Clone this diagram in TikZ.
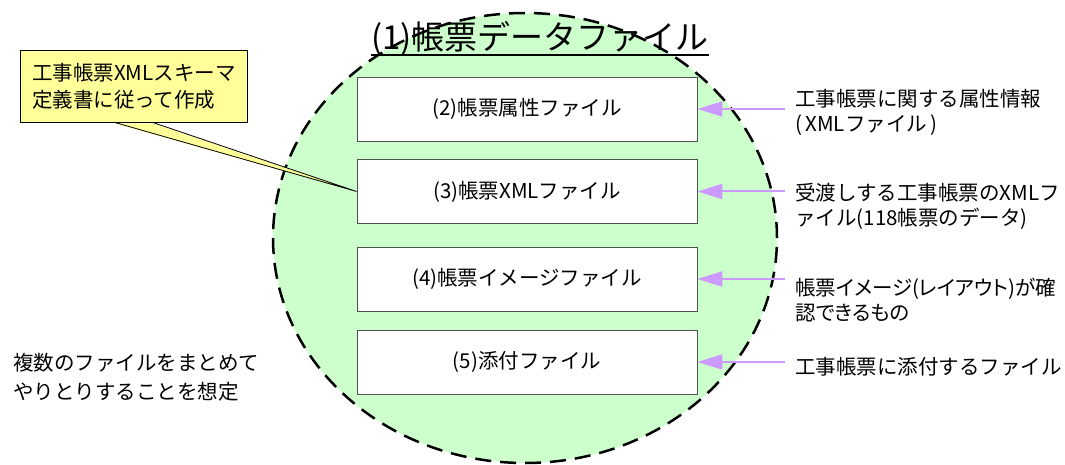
\documentclass[tikz,border=0pt]{standalone}
\usepackage{fontspec}
\setmainfont{Noto Sans CJK JP}
\newfontfamily\narrowjp[RawFeature=+palt]{Noto Sans CJK JP}
\usetikzlibrary{arrows.meta,positioning}
\definecolor{zone}{RGB}{204,255,204}
\definecolor{memo}{RGB}{255,255,153}
\definecolor{lav}{RGB}{204,153,255}
\definecolor{edge}{RGB}{80,80,80}
\tikzset{
	filebox/.style={draw=edge,line width=0.8pt,fill=white,minimum width=340pt,minimum height=64pt,inner sep=0pt,font=\fontsize{20.5}{25}\selectfont},
	note/.style={align=left,anchor=west,inner sep=0pt,font=\fontsize{20.5}{25}\selectfont},
	lavarrow/.style={draw=lav,line width=2pt,-{Triangle[length=25pt,width=15pt,fill=lav]}}
}
\begin{document}
\begin{tikzpicture}[x=1pt,y=-1pt]
	\useasboundingbox (0,0) rectangle (1065,465);
	\draw[fill=zone,line width=2.5pt,dash pattern=on 16pt off 9pt] (525,238) ellipse [x radius=252pt,y radius=225pt];
	\node[inner sep=0pt,anchor=base,font=\fontsize{33}{36}\selectfont] (title) at (540,50) {(1)帳票データファイル};
	\draw[line width=1.6pt] ([yshift=-5pt]title.base west) -- ([yshift=-5pt]title.base east);
	\node[filebox] (box1) at (527,109) {(2)帳票属性ファイル};
	\node[filebox] (box2) at (527,191.5) {(3)帳票XMLファイル};
	\node[filebox] (box3) at (527,279) {(4)帳票イメージファイル};
	\node[filebox] (box4) at (527,362) {(5)添付ファイル};
	\node[note] (lab1) at (795,112) {工事帳票に関する属性情報\\(\,XMLファイル\,)};
	\node[note] (lab2) at (795,206) {受渡しする工事帳票のXMLフ\\ァイル(118帳票のデータ)};
	\node[note,font=\fontsize{20.5}{25}\narrowjp] (lab3) at (795,300) {帳票イメージ(レイアウト)が確\\認できるもの};
	\node[note] (lab4) at (795,367) {工事帳票に添付するファイル};
	\foreach \i in {1,...,4} {
		\coordinate (from\i) at ([xshift=-10pt]lab\i.west);
		\draw[lavarrow] (from\i |- box\i.east) -- (box\i.east);
	}
	\node[draw,line width=0.8pt,fill=memo,minimum width=227pt,minimum height=72pt,text width=203pt,align=left,inner sep=0pt,font=\fontsize{20.5}{27}\selectfont] (memo) at (133.5,86) {工事帳票XMLスキーマ\\定義書に従って作成};
	\coordinate (baseA) at ([xshift=-19pt]memo.south);
	\coordinate (baseB) at ([xshift=19pt]memo.south);
	\fill[memo] ([yshift=-1pt]baseA) -- (box2.west) -- ([yshift=-1pt]baseB) -- cycle;
	\draw[line width=0.8pt] (baseA) -- (box2.west) -- (baseB);
	\node[note,font=\fontsize{20.5}{29}\selectfont] (plan) at (13,377) {複数のファイルをまとめて\\やりとりすることを想定};
\end{tikzpicture}
\end{document}
